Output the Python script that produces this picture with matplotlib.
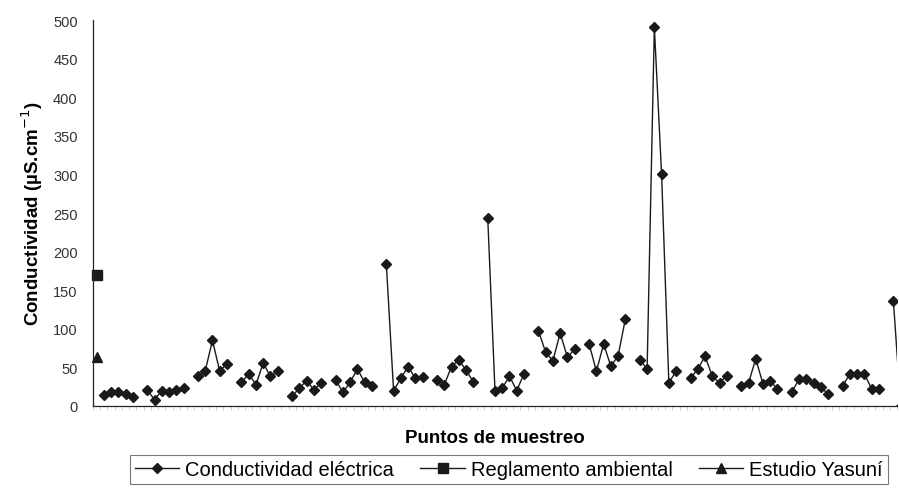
import numpy as np
import matplotlib
matplotlib.use("Agg")
import matplotlib.pyplot as plt

plt.rcParams['font.family'] = ['Liberation Sans', 'DejaVu Sans']

nan = np.nan
# Conductividad eléctrica per sampling point (index 0..111), NaN = gap
conductividad = [
    nan, 14, 18.5, 18.5, 15.5, 12, nan,
    21, 8, 20, 18.5, 21, 23, nan,
    38.5, 45.7, 85, 45, 55, nan,
    30.7, 41.5, 27.6, 55.7, 38.4, 45, nan,
    12.5, 23.3, 32.8, 21, 29.8, nan,
    34, 17.7, 30.7, 48, 30.7, 25.5, nan,
    184, 20, 35.8, 51, 35.8, 37, nan,
    33.7, 27.6, 51, 59.6, 46.6, 31.5, nan,
    243.5, 20, 23.3, 38.5, 20, 41.5, nan,
    97.5, 69.5, 58.7, 94.5, 63, 73.8, nan,
    80.3, 45, 80.3, 51.4, 65.2, 112.7, nan,
    60, 48, 491, 300, 30, 45, nan,
    35.8, 48, 64.4, 38.5, 29.8, 39.3, nan,
    26.3, 29.8, 61, 28.5, 32.8, 22, nan,
    18.5, 35, 35, 29.8, 24.2, 15.5, nan,
    26.3, 41.5, 41.5, 41.5, 22, 22, nan,
    136, 0,
]
reglamento = [170]
yasuni = [63]

n_cat = 111
y_ticks = list(range(0, 501, 50))

fig = plt.figure(figsize=(8.99, 4.89), dpi=100)
ax = fig.add_axes([0.1034, 0.1677, 0.8944, 0.7893])

x = np.arange(len(conductividad))
col = '#1a1a1a'
ax.plot(x, conductividad, color=col, lw=1.0, marker='D', ms=5.5,
        mfc=col, mec=col, label='Conductividad eléctrica')
ax.plot(np.arange(len(reglamento)), reglamento, color=col, lw=1.0, marker='s',
        ms=6.5, mfc=col, mec=col, label='Reglamento ambiental', clip_on=False)
ax.plot(np.arange(len(yasuni)), yasuni, color=col, lw=1.0, marker='^',
        ms=7, mfc=col, mec=col, label='Estudio Yasuní', clip_on=False)

ax.set_xlim(-0.5, n_cat - 0.5)
ax.set_ylim(0, 500)
ax.set_yticks(y_ticks)
ax.set_yticklabels([str(v) for v in y_ticks], fontsize=10.5, color='#333333')
ax.tick_params(axis='y', length=0, pad=11)
ax.set_xticks(np.arange(n_cat + 1) - 0.5)
ax.set_xticklabels([])
ax.tick_params(axis='x', length=3, width=0.5, color='#bbbbbb', direction='out')

for s in ['top', 'right']:
    ax.spines[s].set_visible(False)
for s in ['left', 'bottom']:
    ax.spines[s].set_color('#222222')
    ax.spines[s].set_linewidth(0.9)

ax.set_ylabel('Conductividad (µS.cm$^{-1}$)', fontsize=13.5, fontweight='bold',
              labelpad=6)
ax.set_xlabel('Puntos de muestreo', fontsize=13.5, fontweight='bold', labelpad=10)

leg = fig.legend(loc='center', bbox_to_anchor=(0.566, 0.037), ncol=3,
                 fontsize=14.5, frameon=True, fancybox=False, edgecolor='#555555',
                 handlelength=2.2, columnspacing=1.3, borderpad=0.25,
                 handletextpad=0.3)
leg.get_frame().set_linewidth(0.8)

fig.savefig('out.png', dpi=100)
